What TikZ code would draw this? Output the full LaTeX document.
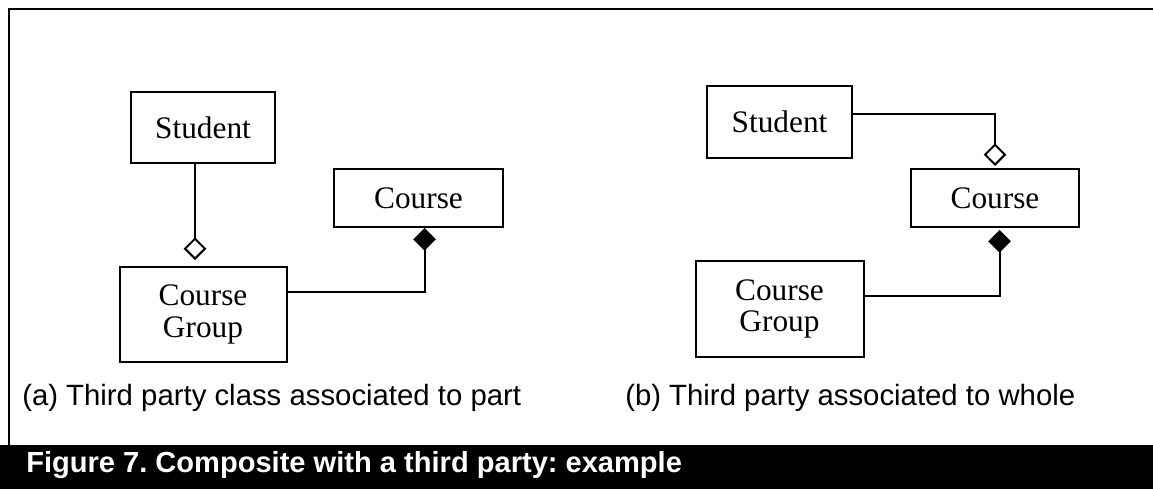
\documentclass[tikz,border=0pt]{standalone}
\usepackage{fontspec}
\setmainfont{Liberation Serif}
\setsansfont{Liberation Sans}
\usetikzlibrary{arrows.meta,positioning}
\frenchspacing

\begin{document}
\begin{tikzpicture}[x=0.75pt,y=-0.75pt,
    cls/.style={draw, rectangle, line width=1.5pt, align=center, inner sep=0pt,
        font=\fontsize{23.5}{23.5}\selectfont},
    agg/.style={line width=1.5pt, -{Diamond[open,length=17pt,width=17pt,line width=1.5pt]}},
    comp/.style={line width=1.5pt, -{Diamond[length=17pt,width=17pt]}},
    subcap/.style={anchor=base west, inner sep=0pt, font=\sffamily\fontsize{22}{26}\selectfont}]
    \useasboundingbox (0,0) rectangle (1153,489);

    % Frame and caption bar
    \draw[line width=2pt] (9,445) -- (9,9) -- (1153,9);
    \fill (0,445) rectangle (1153,489);
    \node[anchor=base west, inner sep=0pt, text=white,
        font=\sffamily\bfseries\fontsize{21.8}{24}\selectfont] (figcap) at (26,472)
        {Figure 7. Composite with a third party: example};

    % (a) third party on the part
    \node[cls, minimum width=108pt, minimum height=53.25pt] (lstudent) at (203,127.5) {Student};
    \node[cls, minimum width=125.25pt, minimum height=71.25pt, below=76.5pt of lstudent] (lgroup)
        {Course\\Group};
    \node[cls, minimum width=126.75pt, minimum height=43.5pt] (lcourse) at (418.5,198) {Course};
    \draw[agg, shorten >=4.5pt] ([xshift=-6pt]lstudent.south) -- ([xshift=-6pt]lgroup.north);
    \draw[comp] ([yshift=16.9pt]lgroup.east) -| ([xshift=4.5pt]lcourse.south);
    \node[subcap] (capa) at (22,405) {(a) Third party class associated to part};

    % (b) third party on the whole
    \node[cls, minimum width=108.75pt, minimum height=54pt] (rstudent) at (779.5,122) {Student};
    \node[cls, minimum width=126pt, minimum height=72pt, below=75.75pt of rstudent] (rgroup)
        {Course\\Group};
    \node[cls, minimum width=126pt, minimum height=43.5pt] (rcourse) at (995,198) {Course};
    \draw[agg, shorten >=1.5pt] ([yshift=6pt]rstudent.east) -| (rcourse.north);
    \draw[comp, shorten >=1.5pt] ([yshift=9.75pt]rgroup.east) -| ([xshift=3.4pt]rcourse.south);
    \node[subcap] (capb) at (625,405) {(b) Third party associated to whole};
\end{tikzpicture}
\end{document}
